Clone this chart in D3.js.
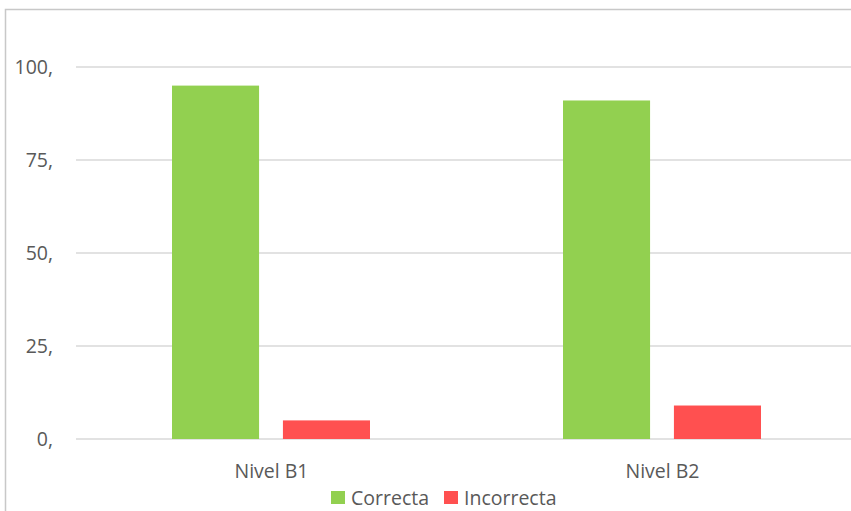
<!DOCTYPE html>
<head>
    <meta charset="utf-8">
    <title>Niveles</title>
    <script src="https://cdn.jsdelivr.net/npm/d3@7"></script>
    <style>
        body { margin: 0; background: #fff; }
        text { font-family: "Open Sans", "Noto Sans", sans-serif; fill: #595959; }
    </style>
</head>
<body>
<div id="container"></div>

<script>

// Données
const niveles = ["Nivel B1", "Nivel B2"];
const series = ["Correcta", "Incorrecta"];
const correcta = [95, 91];
const incorrecta = [5, 9];
const ticks = [0, 25, 50, 75, 100];
const tickLabels = ["0,", "25,", "50,", "75,", "100,"];
const colores = ["#92d050", "#ff5050"];

const data = niveles.map((n, i) => ({ nivel: n, valores: [correcta[i], incorrecta[i]] }));

// Dimensions
const width = 851;
const height = 511;
const marginLeft = 76;
const marginTop = 67;
const plotBottom = 439;
const taille = 19.5; // taille de police

const svg = d3.select("#container")
              .append("svg")
              .attr("width", width)
              .attr("height", height);

// Cadre autour du graphique
svg.append("rect")
   .attr("x", 5.5)
   .attr("y", 9.5)
   .attr("width", 860)
   .attr("height", 520)
   .attr("fill", "none")
   .attr("stroke", "#c8c8c8")
   .attr("stroke-width", 1.5);

// Échelles
const x = d3.scaleBand()
            .domain(niveles)
            .range([marginLeft, 858]);

const xSub = d3.scaleBand()
               .domain(series)
               .range([96, x.bandwidth() - 97])
               .paddingInner(0.215);

const y = d3.scaleLinear()
            .domain([0, 100])
            .range([plotBottom, marginTop]);

// Lignes de grille
svg.append("g")
   .selectAll("line")
   .data(ticks)
   .enter().append("line")
   .attr("x1", marginLeft)
   .attr("x2", width)
   .attr("y1", d => y(d))
   .attr("y2", d => y(d))
   .attr("stroke", "#d9d9d9")
   .attr("stroke-width", 1.5);

// Étiquettes de l'axe y
svg.append("g")
   .selectAll("text")
   .data(ticks)
   .enter().append("text")
   .attr("x", 53)
   .attr("y", d => y(d) + 7)
   .attr("text-anchor", "end")
   .attr("font-size", taille)
   .text((d, i) => tickLabels[i]);

// Barres
const groupes = svg.selectAll(".groupe")
                   .data(data)
                   .enter().append("g")
                   .attr("class", "groupe")
                   .attr("transform", d => `translate(${x(d.nivel)},0)`);

groupes.selectAll("rect")
       .data(d => d.valores.map((v, i) => ({ serie: series[i], valeur: v, i: i })))
       .enter().append("rect")
       .attr("x", d => xSub(d.serie))
       .attr("width", xSub.bandwidth())
       .attr("y", d => y(d.valeur))
       .attr("height", d => y(0) - y(d.valeur))
       .attr("fill", d => colores[d.i]);

// Étiquettes de l'axe x
svg.append("g")
   .selectAll("text")
   .data(niveles)
   .enter().append("text")
   .attr("x", d => x(d) + x.bandwidth() / 2)
   .attr("y", 478)
   .attr("text-anchor", "middle")
   .attr("font-size", taille)
   .text(d => d);

// Légende (remontée un peu pour ne pas être coupée en bas)
const legende = svg.append("g");
const posLegende = [331, 444];

series.forEach((s, i) => {
    legende.append("rect")
           .attr("x", posLegende[i])
           .attr("y", 491)
           .attr("width", 14)
           .attr("height", 13)
           .attr("fill", colores[i]);
    legende.append("text")
           .attr("x", posLegende[i] + 20)
           .attr("y", 505)
           .attr("font-size", taille)
           .text(s);
});

</script>
</body>
